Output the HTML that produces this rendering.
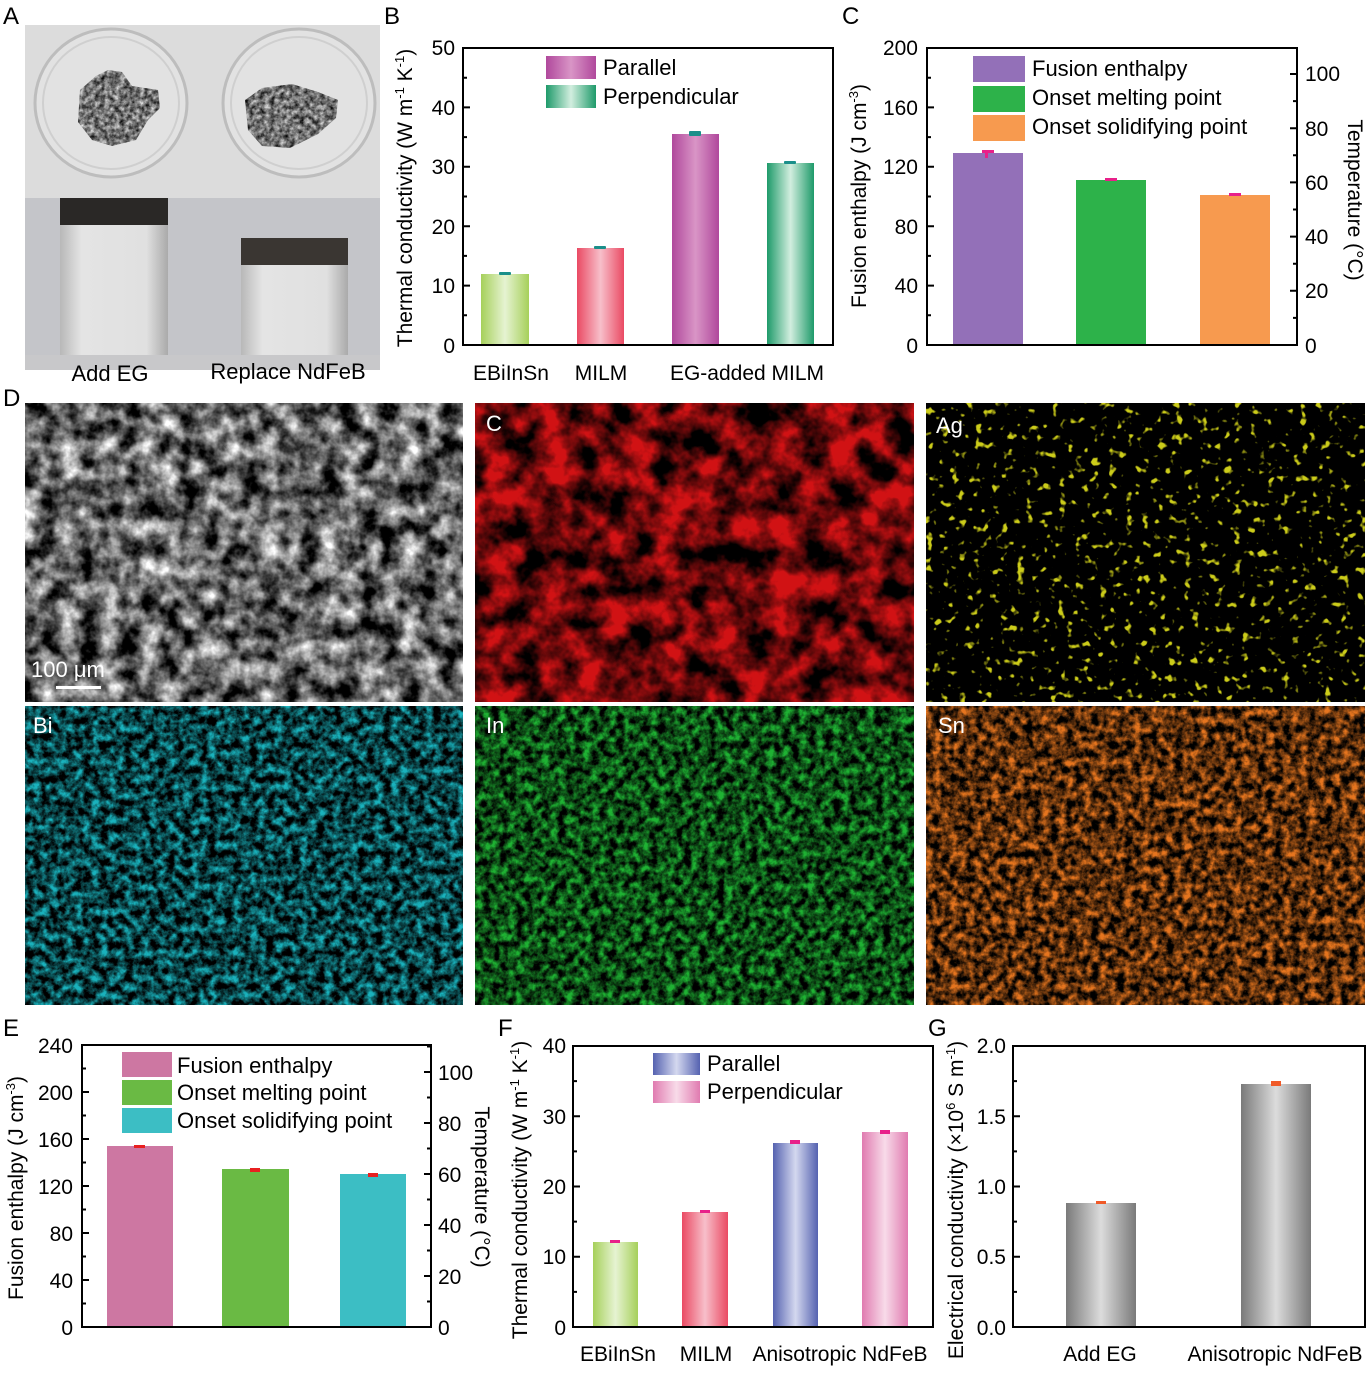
<!DOCTYPE html>
<html><head><meta charset="utf-8"><style>
html,body{margin:0;padding:0;background:#fff}
svg{display:block;font-family:"Liberation Sans",Arial,sans-serif}
filter{color-interpolation-filters:sRGB}
</style></head><body>
<svg width="1372" height="1373" viewBox="0 0 1372 1373" xmlns="http://www.w3.org/2000/svg">
<defs>
<linearGradient id="gGreen" x1="0" x2="1"><stop offset="0" stop-color="#a6d05a"/><stop offset="0.5" stop-color="#e6f3d2"/><stop offset="1" stop-color="#a6d05a"/></linearGradient>
<linearGradient id="gRed" x1="0" x2="1"><stop offset="0" stop-color="#ea4a63"/><stop offset="0.5" stop-color="#f7bfca"/><stop offset="1" stop-color="#ea4a63"/></linearGradient>
<linearGradient id="gPur" x1="0" x2="1"><stop offset="0" stop-color="#b0489c"/><stop offset="0.5" stop-color="#d995c6"/><stop offset="1" stop-color="#b0489c"/></linearGradient>
<linearGradient id="gTeal" x1="0" x2="1"><stop offset="0" stop-color="#1e9a6a"/><stop offset="0.5" stop-color="#d2eedf"/><stop offset="1" stop-color="#1e9a6a"/></linearGradient>
<linearGradient id="gBlue" x1="0" x2="1"><stop offset="0" stop-color="#5562b0"/><stop offset="0.5" stop-color="#d4d8ef"/><stop offset="1" stop-color="#5562b0"/></linearGradient>
<linearGradient id="gPink" x1="0" x2="1"><stop offset="0" stop-color="#e07bb0"/><stop offset="0.5" stop-color="#f8dbe9"/><stop offset="1" stop-color="#e07bb0"/></linearGradient>
<linearGradient id="gGray" x1="0" x2="1"><stop offset="0" stop-color="#7a7a7a"/><stop offset="0.5" stop-color="#dcdcdc"/><stop offset="1" stop-color="#7a7a7a"/></linearGradient>
<linearGradient id="cube" x1="0" x2="1"><stop offset="0" stop-color="#b8b8b8"/><stop offset="0.2" stop-color="#e4e4e4"/><stop offset="0.8" stop-color="#e0e0e0"/><stop offset="1" stop-color="#aaa"/></linearGradient>
<filter id="fSem" x="0" y="0" width="1" height="1" color-interpolation-filters="sRGB"><feTurbulence type="fractalNoise" baseFrequency="0.05" numOctaves="4" seed="3"/><feColorMatrix type="matrix" values="1.8 0 0 0 -0.5  1.8 0 0 0 -0.5  1.8 0 0 0 -0.5  0 0 0 0 1"/></filter>
<filter id="fC" x="0" y="0" width="1" height="1" color-interpolation-filters="sRGB"><feTurbulence type="fractalNoise" baseFrequency="0.035" numOctaves="4" seed="7"/><feColorMatrix type="matrix" values="0 0 0 0 0.82  0 0 0 0 0.07  0 0 0 0 0.08  2.6 0 0 0 -0.8"/></filter>
<filter id="fAg" x="0" y="0" width="1" height="1" color-interpolation-filters="sRGB"><feTurbulence type="fractalNoise" baseFrequency="0.12" numOctaves="2" seed="11"/><feColorMatrix type="matrix" values="0 0 0 0 0.8  0 0 0 0 0.8  0 0 0 0 0.1  8 0 0 0 -5"/></filter>
<filter id="fBi" x="0" y="0" width="1" height="1" color-interpolation-filters="sRGB"><feTurbulence type="fractalNoise" baseFrequency="0.12" numOctaves="4" seed="5"/><feColorMatrix type="matrix" values="0 0 0 0 0.1  0 0 0 0 0.7  0 0 0 0 0.74  2.2 0 0 0 -0.72"/></filter>
<filter id="fIn" x="0" y="0" width="1" height="1" color-interpolation-filters="sRGB"><feTurbulence type="fractalNoise" baseFrequency="0.12" numOctaves="4" seed="9"/><feColorMatrix type="matrix" values="0 0 0 0 0.12  0 0 0 0 0.7  0 0 0 0 0.2  2.2 0 0 0 -0.68"/></filter>
<filter id="fSn" x="0" y="0" width="1" height="1" color-interpolation-filters="sRGB"><feTurbulence type="fractalNoise" baseFrequency="0.12" numOctaves="4" seed="13"/><feColorMatrix type="matrix" values="0 0 0 0 0.9  0 0 0 0 0.46  0 0 0 0 0.12  2.2 0 0 0 -0.7"/></filter>
<filter id="fRock" x="0" y="0" width="1" height="1" color-interpolation-filters="sRGB"><feTurbulence type="fractalNoise" baseFrequency="0.2" numOctaves="3" seed="2"/><feColorMatrix type="matrix" values="1.2 0 0 0 -0.15  1.2 0 0 0 -0.15  1.2 0 0 0 -0.15  0 0 0 0 1"/><feComposite in2="SourceGraphic" operator="in"/></filter>
</defs>

<g font-size="24" fill="#000">
<text x="3" y="24">A</text><text x="384" y="24">B</text><text x="842" y="24">C</text>
<text x="3" y="406">D</text><text x="3" y="1036">E</text><text x="498" y="1036">F</text><text x="928" y="1036">G</text>
</g>

<rect x="25" y="25" width="355" height="173" fill="#dcdcdc"/>
<rect x="25" y="198" width="355" height="172" fill="#c4c5c9"/>
<ellipse cx="111" cy="103" rx="76" ry="74" fill="#e2e2e2" stroke="#bdbdbd" stroke-width="3"/>
<ellipse cx="111" cy="103" rx="68" ry="66" fill="none" stroke="#cfcfcf" stroke-width="2"/>
<ellipse cx="299" cy="103" rx="76" ry="74" fill="#e2e2e2" stroke="#bdbdbd" stroke-width="3"/>
<ellipse cx="299" cy="103" rx="68" ry="66" fill="none" stroke="#cfcfcf" stroke-width="2"/>
<path d="M80 90 L96 76 L108 70 L122 72 L132 86 L158 90 L160 108 L148 120 L136 140 L112 146 L92 140 L78 122 Z" fill="#777" filter="url(#fRock)"/>
<path d="M245 100 L262 88 L292 84 L318 92 L338 100 L336 118 L318 134 L290 148 L262 146 L248 130 Z" fill="#666" filter="url(#fRock)"/>
<rect x="60" y="198" width="108" height="157" fill="url(#cube)"/>
<rect x="60" y="198" width="108" height="27" fill="#2a2826"/>
<rect x="241" y="238" width="107" height="117" fill="url(#cube)"/>
<rect x="241" y="238" width="107" height="27" fill="#3a3632"/>
<rect x="25" y="355" width="355" height="15" fill="#c8c8ca"/>
<g font-size="22" fill="#000" text-anchor="middle"><text x="110" y="381">Add EG</text><text x="288" y="379">Replace NdFeB</text></g>

<g>
<rect x="481" y="274" width="48" height="71" fill="url(#gGreen)"/>
<rect x="577" y="248" width="47" height="97" fill="url(#gRed)"/>
<rect x="672" y="134" width="47" height="211" fill="url(#gPur)"/>
<rect x="767" y="163" width="47" height="182" fill="url(#gTeal)"/>
<g fill="#1a8f8a"><rect x="499" y="272" width="12" height="3" rx="1"/><rect x="594" y="246" width="12" height="3" rx="1"/><rect x="689" y="131" width="12" height="5" rx="1"/><rect x="784" y="161" width="12" height="3" rx="1"/></g>
<rect x="546" y="56" width="50" height="23" fill="url(#gPur)"/>
<rect x="546" y="85" width="50" height="23" fill="url(#gTeal)"/>
<g font-size="22"><text x="603" y="75">Parallel</text><text x="603" y="104">Perpendicular</text></g>
<rect x="463" y="48" width="370" height="297" fill="none" stroke="#000" stroke-width="2"/>
<g stroke="#000" stroke-width="2">
<path d="M463 285.6h7M463 226.2h7M463 166.8h7M463 107.4h7M463 315.3h4M463 255.9h4M463 196.5h4M463 137.1h4M463 77.7h4"/>
</g>
<g font-size="21" text-anchor="end"><text x="455" y="353">0</text><text x="455" y="293">10</text><text x="455" y="234">20</text><text x="455" y="174">30</text><text x="455" y="115">40</text><text x="455" y="55">50</text></g>
<g font-size="21" text-anchor="middle"><text x="511" y="380">EBiInSn</text><text x="601" y="380">MILM</text><text x="747" y="380">EG-added MILM</text></g>
<text transform="translate(412,198) rotate(-90)" font-size="21" text-anchor="middle">Thermal conductivity (W m<tspan dy="-8" font-size="13">-1</tspan><tspan dy="8"> K</tspan><tspan dy="-8" font-size="13">-1</tspan><tspan dy="8">)</tspan></text>
</g>

<g>
<rect x="953" y="153" width="70" height="192" fill="#9370b8"/>
<rect x="1076" y="180" width="70" height="165" fill="#2db24a"/>
<rect x="1200" y="195" width="70" height="150" fill="#f79a4f"/>
<g fill="#e8208a"><rect x="982" y="150" width="12" height="3"/><rect x="985" y="150" width="3" height="8"/><rect x="1105" y="178" width="12" height="3"/><rect x="1229" y="193" width="12" height="3"/></g>
<rect x="973" y="56" width="52" height="26" fill="#9370b8"/>
<rect x="973" y="86" width="52" height="26" fill="#2db24a"/>
<rect x="973" y="115" width="52" height="26" fill="#f79a4f"/>
<g font-size="22"><text x="1032" y="76">Fusion enthalpy</text><text x="1032" y="105">Onset melting point</text><text x="1032" y="134">Onset solidifying point</text></g>
<rect x="927" y="48" width="370" height="297" fill="none" stroke="#000" stroke-width="2"/>
<g stroke="#000" stroke-width="2">
<path d="M927 285.6h7M927 226.2h7M927 166.8h7M927 107.4h7M927 315.3h4M927 255.9h4M927 196.5h4M927 137.1h4M927 77.7h4"/>
<path d="M1297 290.8h-7M1297 236.6h-7M1297 182.4h-7M1297 128.2h-7M1297 74h-7M1297 317.9h-4M1297 263.7h-4M1297 209.5h-4M1297 155.3h-4M1297 101.1h-4"/>
</g>
<g font-size="21" text-anchor="end"><text x="918" y="353">0</text><text x="918" y="293">40</text><text x="918" y="234">80</text><text x="918" y="174">120</text><text x="918" y="115">160</text><text x="918" y="55">200</text></g>
<g font-size="21"><text x="1305" y="353">0</text><text x="1305" y="298">20</text><text x="1305" y="244">40</text><text x="1305" y="190">60</text><text x="1305" y="136">80</text><text x="1305" y="81">100</text></g>
<text transform="translate(866,196) rotate(-90)" font-size="21" text-anchor="middle">Fusion enthalpy (J cm<tspan dy="-8" font-size="13">-3</tspan><tspan dy="8">)</tspan></text>
<text transform="translate(1348,200) rotate(90)" font-size="21" text-anchor="middle">Temperature (°C)</text>
</g>

<rect x="25" y="403" width="438" height="299" fill="#555" filter="url(#fSem)"/>
<rect x="56" y="686" width="45" height="3" fill="#fff"/>
<text x="31" y="677" font-size="22" fill="#fff">100 μm</text>
<rect x="475" y="403" width="439" height="299" fill="#000"/><rect x="475" y="403" width="439" height="299" filter="url(#fC)"/>
<rect x="926" y="403" width="439" height="299" fill="#000"/><rect x="926" y="403" width="439" height="299" filter="url(#fAg)"/>
<rect x="25" y="706" width="438" height="299" fill="#000"/><rect x="25" y="706" width="438" height="299" filter="url(#fBi)"/>
<rect x="475" y="706" width="439" height="299" fill="#000"/><rect x="475" y="706" width="439" height="299" filter="url(#fIn)"/>
<rect x="926" y="706" width="439" height="299" fill="#000"/><rect x="926" y="706" width="439" height="299" filter="url(#fSn)"/>
<g font-size="22" fill="#fff"><text x="486" y="431">C</text><text x="936" y="433">Ag</text><text x="33" y="733">Bi</text><text x="486" y="733">In</text><text x="938" y="733">Sn</text></g>

<g>
<rect x="107" y="1146" width="66" height="181" fill="#cd77a2"/>
<rect x="222" y="1169" width="67" height="158" fill="#6aba44"/>
<rect x="340" y="1174" width="66" height="153" fill="#3cbec4"/>
<g fill="#e82020"><rect x="134" y="1145" width="11" height="3"/><rect x="250" y="1168" width="10" height="4"/><rect x="368" y="1173" width="10" height="4"/></g>
<rect x="122" y="1052" width="50" height="25" fill="#cd77a2"/>
<rect x="122" y="1080" width="50" height="25" fill="#6aba44"/>
<rect x="122" y="1108" width="50" height="25" fill="#3cbec4"/>
<g font-size="22"><text x="177" y="1073">Fusion enthalpy</text><text x="177" y="1100">Onset melting point</text><text x="177" y="1128">Onset solidifying point</text></g>
<rect x="82" y="1045" width="349" height="282" fill="none" stroke="#000" stroke-width="2"/>
<g stroke="#000" stroke-width="2">
<path d="M82 1280h7M82 1233h7M82 1186h7M82 1139h7M82 1092h7M82 1303.5h4M82 1256.5h4M82 1209.5h4M82 1162.5h4M82 1115.5h4M82 1068.5h4"/>
<path d="M431 1276h-7M431 1225h-7M431 1174h-7M431 1123h-7M431 1072h-7M431 1301.5h-4M431 1250.5h-4M431 1199.5h-4M431 1148.5h-4M431 1097.5h-4M431 1046.5h-4"/>
</g>
<g font-size="21" text-anchor="end"><text x="73" y="1335">0</text><text x="73" y="1288">40</text><text x="73" y="1241">80</text><text x="73" y="1194">120</text><text x="73" y="1147">160</text><text x="73" y="1100">200</text><text x="73" y="1053">240</text></g>
<g font-size="21"><text x="438" y="1335">0</text><text x="438" y="1284">20</text><text x="438" y="1233">40</text><text x="438" y="1182">60</text><text x="438" y="1131">80</text><text x="438" y="1080">100</text></g>
<text transform="translate(23,1188) rotate(-90)" font-size="21" text-anchor="middle">Fusion enthalpy (J cm<tspan dy="-8" font-size="13">-3</tspan><tspan dy="8">)</tspan></text>
<text transform="translate(475,1187) rotate(90)" font-size="21" text-anchor="middle">Temperature (°C)</text>
</g>

<g>
<rect x="593" y="1242" width="45" height="85" fill="url(#gGreen)"/>
<rect x="682" y="1212" width="46" height="115" fill="url(#gRed)"/>
<rect x="773" y="1143" width="45" height="184" fill="url(#gBlue)"/>
<rect x="862" y="1132" width="46" height="195" fill="url(#gPink)"/>
<g fill="#e8208a"><rect x="610" y="1240" width="10" height="3"/><rect x="700" y="1210" width="10" height="3"/><rect x="790" y="1140" width="10" height="4"/><rect x="880" y="1130" width="10" height="4"/></g>
<rect x="653" y="1053" width="47" height="22" fill="url(#gBlue)"/>
<rect x="653" y="1081" width="47" height="22" fill="url(#gPink)"/>
<g font-size="22"><text x="707" y="1071">Parallel</text><text x="707" y="1099">Perpendicular</text></g>
<rect x="573" y="1046" width="360" height="281" fill="none" stroke="#000" stroke-width="2"/>
<g stroke="#000" stroke-width="2"><path d="M573 1256.75h7M573 1186.5h7M573 1116.25h7M573 1291.9h4M573 1221.6h4M573 1151.4h4M573 1081.1h4"/></g>
<g font-size="21" text-anchor="end"><text x="566" y="1335">0</text><text x="566" y="1264">10</text><text x="566" y="1194">20</text><text x="566" y="1124">30</text><text x="566" y="1053">40</text></g>
<g font-size="21" text-anchor="middle"><text x="618" y="1361">EBiInSn</text><text x="706" y="1361">MILM</text><text x="840" y="1361">Anisotropic NdFeB</text></g>
<text transform="translate(527,1190) rotate(-90)" font-size="21" text-anchor="middle">Thermal conductivity (W m<tspan dy="-8" font-size="13">-1</tspan><tspan dy="8"> K</tspan><tspan dy="-8" font-size="13">-1</tspan><tspan dy="8">)</tspan></text>
</g>

<g>
<rect x="1066" y="1203" width="70" height="124" fill="url(#gGray)"/>
<rect x="1241" y="1084" width="70" height="243" fill="url(#gGray)"/>
<g fill="#f05a28"><rect x="1096" y="1201" width="10" height="3"/><rect x="1271" y="1081" width="10" height="5"/></g>
<rect x="1013" y="1046" width="352" height="281" fill="none" stroke="#000" stroke-width="2"/>
<g stroke="#000" stroke-width="2"><path d="M1013 1256.75h7M1013 1186.5h7M1013 1116.25h7M1013 1291.9h4M1013 1221.6h4M1013 1151.4h4M1013 1081.1h4"/></g>
<g font-size="21" text-anchor="end"><text x="1006" y="1335">0.0</text><text x="1006" y="1264">0.5</text><text x="1006" y="1194">1.0</text><text x="1006" y="1124">1.5</text><text x="1006" y="1053">2.0</text></g>
<g font-size="21" text-anchor="middle"><text x="1100" y="1361">Add EG</text><text x="1275" y="1361">Anisotropic NdFeB</text></g>
<text transform="translate(963,1200) rotate(-90)" font-size="21" text-anchor="middle">Electrical conductivity (×10<tspan dy="-8" font-size="13">6</tspan><tspan dy="8"> S m</tspan><tspan dy="-8" font-size="13">-1</tspan><tspan dy="8">)</tspan></text>
</g>
</svg>
</body></html>
